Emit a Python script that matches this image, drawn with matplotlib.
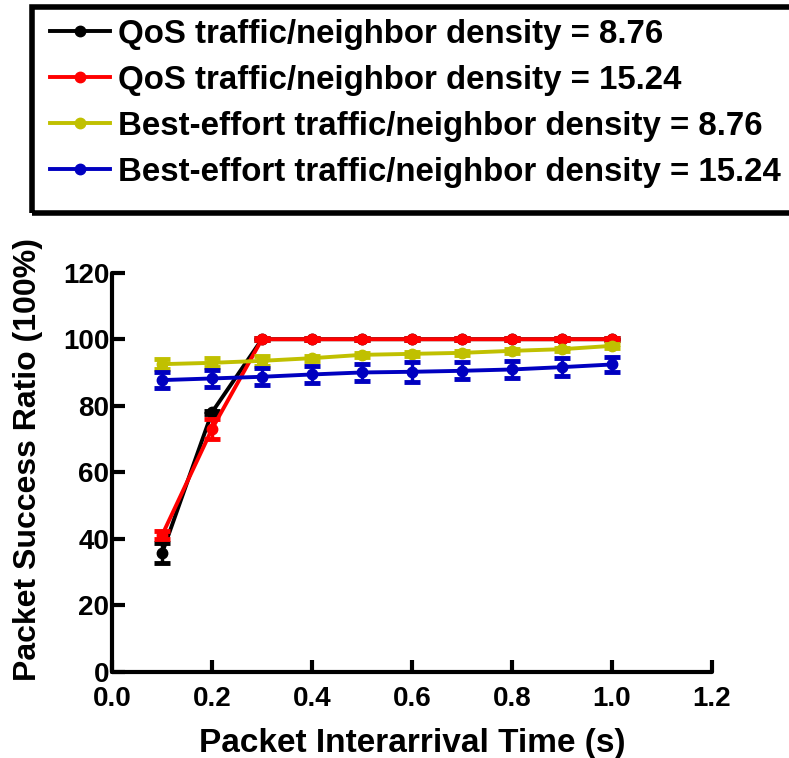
import matplotlib
matplotlib.use("Agg")
import matplotlib.pyplot as plt
from matplotlib.lines import Line2D
from matplotlib.patches import Rectangle

plt.rcParams['font.family'] = ['Liberation Sans', 'DejaVu Sans']
plt.rcParams['font.weight'] = 'bold'

# data
interarrival = [0.1, 0.2, 0.3, 0.4, 0.5, 0.6, 0.7, 0.8, 0.9, 1.0]

qos_876 = [35.6, 78.0, 100, 100, 100, 100, 100, 100, 100, 100]
qos_876_err = [3.0, 0.5, 0.3, 0.3, 0.3, 0.3, 0.3, 0.3, 0.3, 0.3]

qos_1524 = [41.0, 73.0, 100, 100, 100, 100, 100, 100, 100, 100]
qos_1524_err = [1.2, 3.0, 0.3, 0.3, 0.3, 0.3, 0.3, 0.3, 0.3, 0.3]

be_876 = [92.5, 92.9, 93.5, 94.3, 95.3, 95.6, 95.9, 96.5, 97.0, 98.0]
be_876_err = [1.5, 1.4, 1.5, 0.8, 0.6, 0.5, 0.5, 0.5, 0.5, 0.5]

be_1524 = [87.7, 88.2, 88.7, 89.4, 90.0, 90.2, 90.5, 90.9, 91.6, 92.4]
be_1524_err = [2.3, 2.5, 2.5, 2.5, 2.6, 3.0, 2.6, 2.6, 2.6, 2.2]

labels = ['QoS traffic/neighbor density = 8.76',
          'QoS traffic/neighbor density = 15.24',
          'Best-effort traffic/neighbor density = 8.76',
          'Best-effort traffic/neighbor density = 15.24']
colors = ['#000000', '#FF0000', '#C0C000', '#0000C0']

series = [(qos_876, qos_876_err), (qos_1524, qos_1524_err),
          (be_876, be_876_err), (be_1524, be_1524_err)]

fig = plt.figure(figsize=(7.89, 7.58), dpi=100)
ax = fig.add_axes([0.142, 0.1139, 0.760, 0.5263])

handles = []
for (vals, errs), color, label in zip(series, colors, labels):
    ax.errorbar(interarrival, vals, yerr=errs, fmt='none', ecolor=color,
                elinewidth=2.5, capsize=6, capthick=3.5)
    ax.plot(interarrival, vals, color=color, linewidth=2.8, marker='o',
            markersize=7.5, label=label)
    handles.append(Line2D([0], [0], color=color, linewidth=2.8, marker='o', markersize=7.5))

ax.set_xlim(0, 1.2)
ax.set_ylim(0, 120)
ax.set_xticks([0.0, 0.2, 0.4, 0.6, 0.8, 1.0, 1.2])
ax.set_xticklabels(['0.0', '0.2', '0.4', '0.6', '0.8', '1.0', '1.2'])
ax.set_yticks([0, 20, 40, 60, 80, 100, 120])

for side in ['top', 'right']:
    ax.spines[side].set_visible(False)
for side in ['left', 'bottom']:
    ax.spines[side].set_linewidth(3)
    ax.spines[side].set_capstyle('round')

ax.tick_params(direction='in', length=9, width=3, labelsize=20, pad=2)
ax.tick_params(axis='x', pad=10)
for lab in ax.get_xticklabels() + ax.get_yticklabels():
    lab.set_fontweight('bold')

ax.set_xlabel('Packet Interarrival Time (s)', fontsize=24, fontweight='bold', labelpad=12)
ax.set_ylabel('Packet Success Ratio (100%)', fontsize=23, fontweight='bold')
ax.yaxis.set_label_coords(-0.115, 0.531)

# legend frame sitting above the axes, running off the right edge
fig.patches.append(Rectangle((32 / 789, 1 - 213 / 758), 0.99, (213 - 7) / 758,
                             transform=fig.transFigure, fill=False,
                             linewidth=4, edgecolor='black'))
fig.legend(handles, labels, loc='upper left', bbox_to_anchor=(50 / 789, 1 - 19 / 758),
           frameon=False, prop={'size': 23.8, 'weight': 'bold'},
           handlelength=1.8, handletextpad=0.25, labelspacing=0.45,
           borderpad=0, borderaxespad=0)

fig.savefig('out.png', dpi=100)
